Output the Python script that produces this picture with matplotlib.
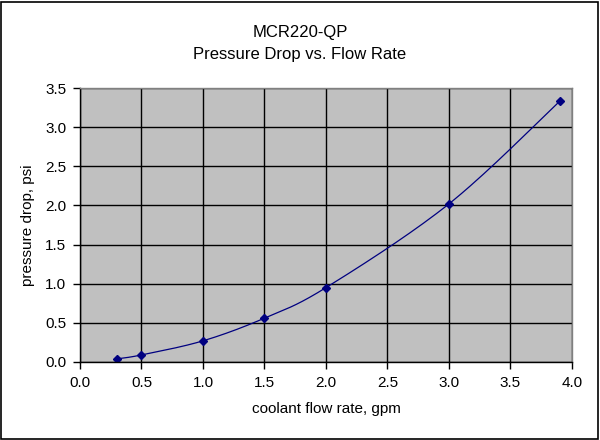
import numpy as np
import matplotlib
matplotlib.use("Agg")
import matplotlib.pyplot as plt

# === DATA ===
flow_gpm = [0.3, 0.5, 1.0, 1.5, 2.0, 3.0, 3.9]
drop_psi = [0.04, 0.09, 0.27, 0.56, 0.95, 2.02, 3.33]
x_ticks = [0.0, 0.5, 1.0, 1.5, 2.0, 2.5, 3.0, 3.5, 4.0]
y_ticks = [0.0, 0.5, 1.0, 1.5, 2.0, 2.5, 3.0, 3.5]


def excel_smooth(xs, ys, n=30):
    # Excel-style smoothed line: cubic bezier between points, tangents from neighbours
    xs = np.asarray(xs, float)
    ys = np.asarray(ys, float)
    px, py = [], []
    for i in range(len(xs) - 1):
        x0, y0 = xs[i], ys[i]
        x3, y3 = xs[i + 1], ys[i + 1]
        xm, ym = (xs[i - 1], ys[i - 1]) if i > 0 else (x0, y0)
        xp, yp = (xs[i + 2], ys[i + 2]) if i + 2 < len(xs) else (x3, y3)
        x1, y1 = x0 + (x3 - xm) / 6, y0 + (y3 - ym) / 6
        x2, y2 = x3 - (xp - x0) / 6, y3 - (yp - y0) / 6
        t = np.linspace(0, 1, n)
        a, b, c, d = (1 - t) ** 3, 3 * t * (1 - t) ** 2, 3 * t ** 2 * (1 - t), t ** 3
        px.extend(a * x0 + b * x1 + c * x2 + d * x3)
        py.extend(a * y0 + b * y1 + c * y2 + d * y3)
    return px, py


plt.rcParams["font.family"] = ["Liberation Sans", "DejaVu Sans"]

fig = plt.figure(figsize=(6, 4.4), dpi=100)
fig.patch.set_facecolor("white")
fig.add_artist(plt.Rectangle((0.002, 0.003), 0.995, 0.993, transform=fig.transFigure,
                             fill=False, edgecolor="black", linewidth=1.2))

ax = fig.add_axes([0.1333, 0.1773, 0.82, 0.6227])
ax.set_facecolor("#C0C0C0")

sx, sy = excel_smooth(flow_gpm, drop_psi)
ax.plot(sx, sy, color="#000080", linewidth=0.9)
ax.plot(flow_gpm, drop_psi, linestyle="none", marker="D", markersize=4,
        color="#000080")

ax.set_xlim(0, 4.0)
ax.set_ylim(0, 3.5)
ax.set_xticks(x_ticks)
ax.set_yticks(y_ticks)
ax.set_xticklabels([f"{v:.1f}" for v in x_ticks], fontsize=11)
ax.set_yticklabels([f"{v:.1f}" for v in y_ticks], fontsize=11)
ax.grid(True, color="black", linewidth=1.0)
ax.set_axisbelow(True)
ax.tick_params(direction="out", length=5, width=1, color="black", pad=5)

for side in ["top", "right"]:
    ax.spines[side].set_color("#808080")
    ax.spines[side].set_linewidth(1.0)
for side in ["left", "bottom"]:
    ax.spines[side].set_color("black")
    ax.spines[side].set_linewidth(1.0)

ax.set_xlabel("coolant flow rate, gpm", fontsize=11, labelpad=9)
ax.set_ylabel("pressure drop, psi", fontsize=11, labelpad=7)

fig.text(0.5, 1 - 33 / 440, "MCR220-QP", ha="center", va="center", fontsize=12)
fig.text(0.5, 1 - 55 / 440, "Pressure Drop vs. Flow Rate", ha="center", va="center", fontsize=12)

plt.savefig("out.png", dpi=100)
plt.close()
